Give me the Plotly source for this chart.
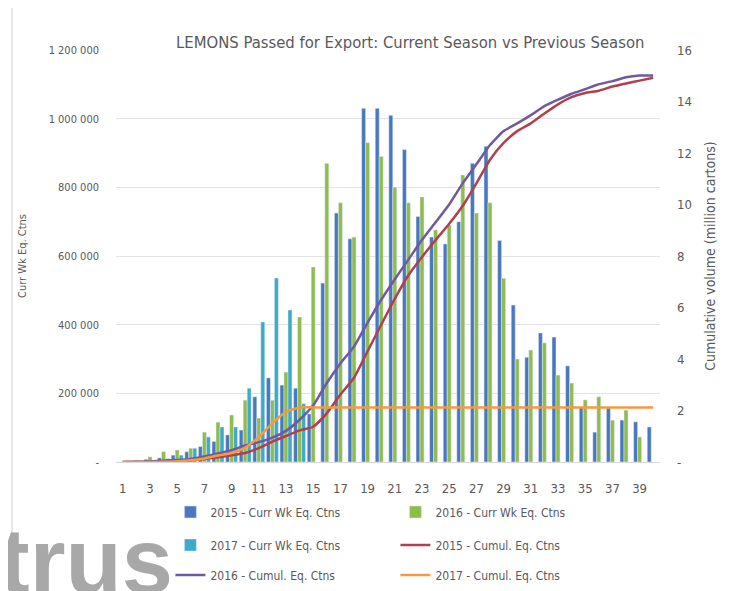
import plotly.graph_objects as go

weeks = list(range(1, 41))

# weekly volumes (cartons)
curr_2015 = [0, 0, 8000, 12000, 20000, 30000, 45000, 60000, 79000, 93000,
             190000, 245000, 224000, 215000, 140000, 521000, 725000, 650000, 1030000, 1030000,
             1010000, 910000, 715000, 655000, 635000, 700000, 870000, 920000, 645000, 457000,
             305000, 376000, 364000, 280000, 160000, 87000, 157000, 122000, 117000, 102000]
curr_2016 = [0, 5000, 15000, 30000, 35000, 40000, 87000, 116000, 137000, 180000,
             128000, 180000, 262000, 422000, 568000, 870000, 755000, 655000, 930000, 890000,
             800000, 755000, 772000, 676000, 690000, 836000, 725000, 755000, 535000, 300000,
             326000, 347000, 253000, 230000, 181000, 190000, 122000, 151000, 73000, None]
curr_2017 = [0, 0, 0, 10000, 20000, 40000, 73000, 102000, 102000, 215000,
             408000, 536000, 443000, 170000] + [None] * 26

# cumulative volumes (million cartons)
cum_2015 = [0, 0, 0.01, 0.02, 0.04, 0.07, 0.12, 0.18, 0.26, 0.35,
            0.54, 0.79, 1.01, 1.23, 1.37, 1.89, 2.62, 3.27, 4.30, 5.33,
            6.34, 7.25, 7.96, 8.62, 9.25, 9.95, 10.82, 11.74, 12.39, 12.85,
            13.15, 13.53, 13.89, 14.17, 14.33, 14.42, 14.58, 14.70, 14.81, 14.92]
cum_2016 = [0, 0.01, 0.02, 0.05, 0.08, 0.12, 0.21, 0.33, 0.46, 0.64,
            0.77, 0.95, 1.21, 1.64, 2.20, 3.07, 3.83, 4.48, 5.41, 6.30,
            7.10, 7.86, 8.63, 9.31, 10.00, 10.83, 11.56, 12.31, 12.85, 13.15,
            13.47, 13.82, 14.07, 14.30, 14.48, 14.67, 14.79, 14.94, 15.01, 15.01]
cum_2017 = [0, 0, 0, 0.01, 0.03, 0.07, 0.14, 0.25, 0.35, 0.56,
            0.97, 1.51, 1.95, 2.12] + [2.12] * 26

left_ticks = [0, 200000, 400000, 600000, 800000, 1000000, 1200000]
left_labels = ["-", "200 000", "400 000", "600 000", "800 000", "1 000 000", "1 200 000"]
right_ticks = [0, 2, 4, 6, 8, 10, 12, 14, 16]
right_labels = ["-", "2", "4", "6", "8", "10", "12", "14", "16"]

FONT = "Liberation Sans Narrow, DejaVu Sans Condensed, Roboto, sans-serif"
GREY = "#595959"

fig = go.Figure()

# bars
fig.add_trace(go.Bar(x=weeks, y=curr_2015, name="2015 - Curr Wk Eq. Ctns",
                     marker_color="#4A78C0", legend="legend"))
fig.add_trace(go.Bar(x=weeks, y=curr_2016, name="2016 - Curr Wk Eq. Ctns",
                     marker_color="#8FBC4F", legend="legend"))
fig.add_trace(go.Bar(x=weeks, y=curr_2017, name="2017 - Curr Wk Eq. Ctns",
                     marker_color="#3FA9C9", legend="legend2"))

# cumulative lines
fig.add_trace(go.Scatter(x=weeks, y=cum_2015, name="2015 - Cumul. Eq. Ctns", yaxis="y2",
                         mode="lines", line=dict(color="#B0404B", width=2.5, shape="spline", smoothing=0.5),
                         legend="legend2"))
fig.add_trace(go.Scatter(x=weeks, y=cum_2016, name="2016 - Cumul. Eq. Ctns", yaxis="y2",
                         mode="lines", line=dict(color="#7059A0", width=2.5, shape="spline", smoothing=0.5),
                         legend="legend3"))
fig.add_trace(go.Scatter(x=weeks, y=cum_2017, name="2017 - Cumul. Eq. Ctns", yaxis="y2",
                         mode="lines", line=dict(color="#F59A40", width=2.5, shape="spline", smoothing=0.5),
                         legend="legend3"))

legend_style = dict(orientation="h", x=0.1, xanchor="left", yanchor="middle",
                    entrywidth=180, font=dict(family=FONT, size=12, color=GREY),
                    bgcolor="rgba(0,0,0,0)")

fig.update_layout(
    width=734, height=591,
    margin=dict(l=108, r=82, t=42, b=137, autoexpand=False),
    paper_bgcolor="white", plot_bgcolor="white",
    font=dict(family=FONT, color=GREY),
    title=dict(text="LEMONS Passed for Export: Current Season vs Previous Season",
               x=0.548, xanchor="center", y=1 - 34 / 591, yanchor="middle",
               font=dict(family=FONT, size=16.5, color=GREY)),
    barmode="group", bargap=0.12, bargroupgap=0,
    xaxis=dict(range=[0.5, 40.5], tickvals=list(range(1, 40, 2)), showgrid=False,
               showline=True, linecolor="#D9D9D9", linewidth=1, ticks="",
               ticklabelstandoff=14, tickfont=dict(family=FONT, size=13, color=GREY)),
    yaxis=dict(range=[0, 1200000], tickvals=left_ticks, ticktext=left_labels,
               showgrid=True, gridcolor="#E3E3E3", zeroline=False, showline=False,
               ticklabelstandoff=16, tickfont=dict(family=FONT, size=11, color=GREY),
               title=dict(text="Curr Wk Eq. Ctns", standoff=19,
                          font=dict(family=FONT, size=11, color=GREY))),
    yaxis2=dict(range=[0, 16], tickvals=right_ticks, ticktext=right_labels,
                overlaying="y", side="right", showgrid=False, zeroline=False,
                ticklabelstandoff=16, tickfont=dict(family=FONT, size=13, color=GREY),
                title=dict(text="Cumulative volume (million cartons)", standoff=14,
                           font=dict(family=FONT, size=14, color=GREY))),
    legend=dict(legend_style, y=(462 - 512) / 412),
    legend2=dict(legend_style, y=(462 - 545) / 412),
    legend3=dict(legend_style, y=(462 - 575) / 412),
    shapes=[
        dict(type="line", xref="paper", yref="paper", x0=(12 - 116) / 544, x1=(12 - 116) / 544,
             y0=(462 - 600) / 412, y1=(462 - 0) / 412, line=dict(color="#D0D0D0", width=1)),
        dict(type="line", xref="paper", yref="paper", x0=(727 - 116) / 544, x1=(727 - 116) / 544,
             y0=(462 - 600) / 412, y1=(462 - 0) / 412, line=dict(color="#D0D0D0", width=1)),
    ],
    annotations=[
        dict(text="<b>trus</b>", xref="paper", yref="paper", x=(-3 - 116) / 544, xanchor="left",
             y=(462 - 508) / 412, yanchor="top", showarrow=False,
             font=dict(family="Liberation Sans, Arial, sans-serif", size=92, color="#A8A8A8")),
    ],
)

fig.write_html("out.html")
